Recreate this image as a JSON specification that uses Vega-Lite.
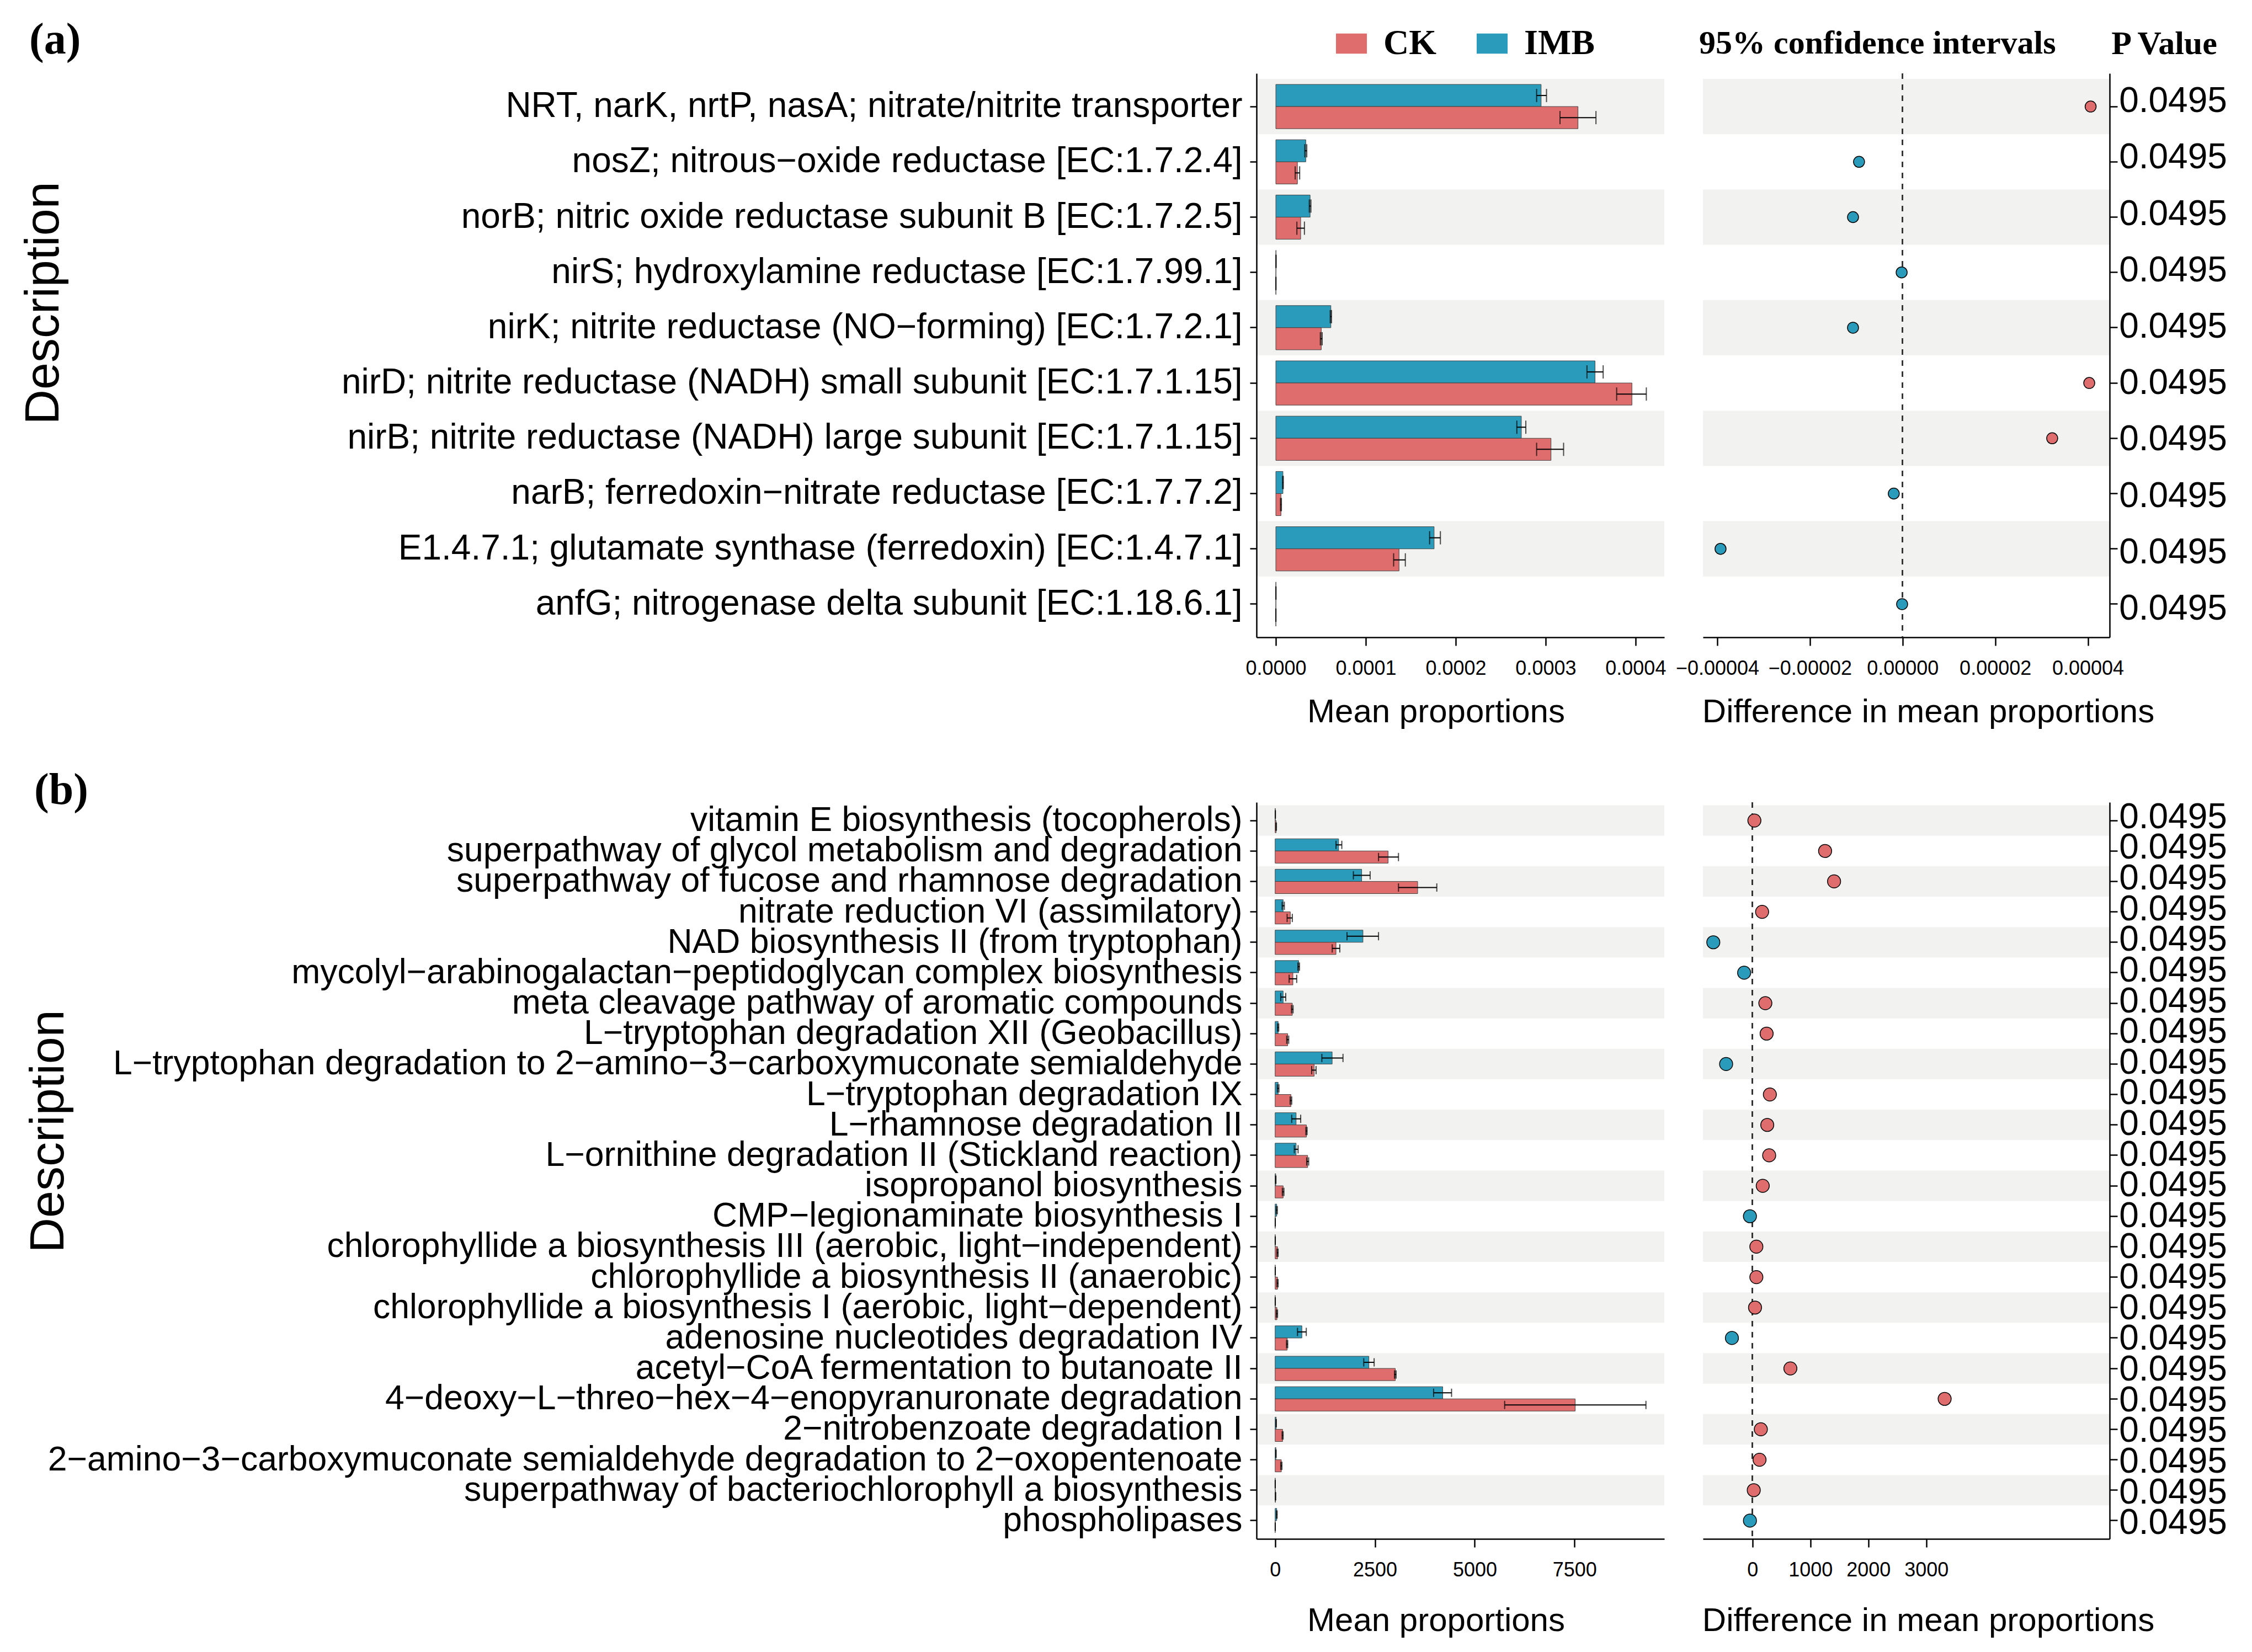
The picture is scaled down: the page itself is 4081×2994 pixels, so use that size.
{
"$schema": "https://vega.github.io/schema/vega-lite/v6.json",
"background": "white",
"padding": {"left": 35, "top": 33, "right": 20, "bottom": 10},
"datasets": {
"a": [
{"desc": "NRT, narK, nrtP, nasA; nitrate/nitrite transporter", "group": "IMB", "mean": 0.000295, "lo": 0.00029, "hi": 0.000301},
{"desc": "NRT, narK, nrtP, nasA; nitrate/nitrite transporter", "group": "CK", "mean": 0.000336, "lo": 0.000316, "hi": 0.000356, "diff": 0.0000406, "enriched": "CK", "p": 0.0495},
{"desc": "nosZ; nitrous−oxide reductase [EC:1.7.2.4]", "group": "IMB", "mean": 0.0000333, "lo": 0.0000322, "hi": 0.0000344},
{"desc": "nosZ; nitrous−oxide reductase [EC:1.7.2.4]", "group": "CK", "mean": 0.000024, "lo": 0.0000215, "hi": 0.0000265, "diff": -0.0000094, "enriched": "IMB", "p": 0.0495},
{"desc": "norB; nitric oxide reductase subunit B [EC:1.7.2.5]", "group": "IMB", "mean": 0.0000381, "lo": 0.0000372, "hi": 0.000039},
{"desc": "norB; nitric oxide reductase subunit B [EC:1.7.2.5]", "group": "CK", "mean": 0.0000276, "lo": 0.0000234, "hi": 0.0000318, "diff": -0.0000107, "enriched": "IMB", "p": 0.0495},
{"desc": "nirS; hydroxylamine reductase [EC:1.7.99.1]", "group": "IMB", "mean": 0.0000002, "lo": 0.0000001, "hi": 0.0000003},
{"desc": "nirS; hydroxylamine reductase [EC:1.7.99.1]", "group": "CK", "mean": 0.0000001, "lo": 0.00000005, "hi": 0.00000015, "diff": -0.0000002, "enriched": "IMB", "p": 0.0495},
{"desc": "nirK; nitrite reductase (NO−forming) [EC:1.7.2.1]", "group": "IMB", "mean": 0.0000612, "lo": 0.0000605, "hi": 0.0000619},
{"desc": "nirK; nitrite reductase (NO−forming) [EC:1.7.2.1]", "group": "CK", "mean": 0.0000505, "lo": 0.0000495, "hi": 0.0000515, "diff": -0.0000107, "enriched": "IMB", "p": 0.0495},
{"desc": "nirD; nitrite reductase (NADH) small subunit [EC:1.7.1.15]", "group": "IMB", "mean": 0.000355, "lo": 0.000346, "hi": 0.000364},
{"desc": "nirD; nitrite reductase (NADH) small subunit [EC:1.7.1.15]", "group": "CK", "mean": 0.000396, "lo": 0.000379, "hi": 0.000412, "diff": 0.0000403, "enriched": "CK", "p": 0.0495},
{"desc": "nirB; nitrite reductase (NADH) large subunit [EC:1.7.1.15]", "group": "IMB", "mean": 0.000273, "lo": 0.000268, "hi": 0.000278},
{"desc": "nirB; nitrite reductase (NADH) large subunit [EC:1.7.1.15]", "group": "CK", "mean": 0.000306, "lo": 0.00029, "hi": 0.00032, "diff": 0.0000323, "enriched": "CK", "p": 0.0495},
{"desc": "narB; ferredoxin−nitrate reductase [EC:1.7.7.2]", "group": "IMB", "mean": 0.0000079, "lo": 0.0000075, "hi": 0.0000083},
{"desc": "narB; ferredoxin−nitrate reductase [EC:1.7.7.2]", "group": "CK", "mean": 0.0000057, "lo": 0.0000052, "hi": 0.0000062, "diff": -0.0000019, "enriched": "IMB", "p": 0.0495},
{"desc": "E1.4.7.1; glutamate synthase (ferredoxin) [EC:1.4.7.1]", "group": "IMB", "mean": 0.000176, "lo": 0.000171, "hi": 0.000183},
{"desc": "E1.4.7.1; glutamate synthase (ferredoxin) [EC:1.4.7.1]", "group": "CK", "mean": 0.000137, "lo": 0.000131, "hi": 0.000144, "diff": -0.0000393, "enriched": "IMB", "p": 0.0495},
{"desc": "anfG; nitrogenase delta subunit [EC:1.18.6.1]", "group": "IMB", "mean": 0.0000001, "lo": 0.00000005, "hi": 0.00000015},
{"desc": "anfG; nitrogenase delta subunit [EC:1.18.6.1]", "group": "CK", "mean": 0.00000005, "lo": 0.00000003, "hi": 0.00000007, "diff": -0.0000001, "enriched": "IMB", "p": 0.0495}
],
"b": [
{"desc": "vitamin E biosynthesis (tocopherols)", "group": "IMB", "mean": 5, "lo": 3, "hi": 7},
{"desc": "vitamin E biosynthesis (tocopherols)", "group": "CK", "mean": 25, "lo": 18, "hi": 32, "diff": 33, "enriched": "CK", "p": 0.0495},
{"desc": "superpathway of glycol metabolism and degradation", "group": "IMB", "mean": 1590, "lo": 1525, "hi": 1670},
{"desc": "superpathway of glycol metabolism and degradation", "group": "CK", "mean": 2830, "lo": 2590, "hi": 3090, "diff": 1253, "enriched": "CK", "p": 0.0495},
{"desc": "superpathway of fucose and rhamnose degradation", "group": "IMB", "mean": 2168, "lo": 1960, "hi": 2380},
{"desc": "superpathway of fucose and rhamnose degradation", "group": "CK", "mean": 3570, "lo": 3090, "hi": 4050, "diff": 1408, "enriched": "CK", "p": 0.0495},
{"desc": "nitrate reduction VI (assimilatory)", "group": "IMB", "mean": 200, "lo": 175, "hi": 230},
{"desc": "nitrate reduction VI (assimilatory)", "group": "CK", "mean": 380, "lo": 300, "hi": 430, "diff": 166, "enriched": "CK", "p": 0.0495},
{"desc": "NAD biosynthesis II (from tryptophan)", "group": "IMB", "mean": 2200, "lo": 1800, "hi": 2590},
{"desc": "NAD biosynthesis II (from tryptophan)", "group": "CK", "mean": 1524, "lo": 1430, "hi": 1620, "diff": -676, "enriched": "IMB", "p": 0.0495},
{"desc": "mycolyl−arabinogalactan−peptidoglycan complex biosynthesis", "group": "IMB", "mean": 590, "lo": 570, "hi": 610},
{"desc": "mycolyl−arabinogalactan−peptidoglycan complex biosynthesis", "group": "CK", "mean": 445, "lo": 350, "hi": 540, "diff": -144, "enriched": "IMB", "p": 0.0495},
{"desc": "meta cleavage pathway of aromatic compounds", "group": "IMB", "mean": 200, "lo": 140, "hi": 265},
{"desc": "meta cleavage pathway of aromatic compounds", "group": "CK", "mean": 430, "lo": 410, "hi": 450, "diff": 222, "enriched": "CK", "p": 0.0495},
{"desc": "L−tryptophan degradation XII (Geobacillus)", "group": "IMB", "mean": 75, "lo": 60, "hi": 90},
{"desc": "L−tryptophan degradation XII (Geobacillus)", "group": "CK", "mean": 315, "lo": 290, "hi": 340, "diff": 244, "enriched": "CK", "p": 0.0495},
{"desc": "L−tryptophan degradation to 2−amino−3−carboxymuconate semialdehyde", "group": "IMB", "mean": 1428, "lo": 1170, "hi": 1700},
{"desc": "L−tryptophan degradation to 2−amino−3−carboxymuconate semialdehyde", "group": "CK", "mean": 977, "lo": 915, "hi": 1025, "diff": -455, "enriched": "IMB", "p": 0.0495},
{"desc": "L−tryptophan degradation IX", "group": "IMB", "mean": 75, "lo": 55, "hi": 95},
{"desc": "L−tryptophan degradation IX", "group": "CK", "mean": 395, "lo": 375, "hi": 415, "diff": 300, "enriched": "CK", "p": 0.0495},
{"desc": "L−rhamnose degradation II", "group": "IMB", "mean": 525, "lo": 415, "hi": 640},
{"desc": "L−rhamnose degradation II", "group": "CK", "mean": 783, "lo": 770, "hi": 800, "diff": 255, "enriched": "CK", "p": 0.0495},
{"desc": "L−ornithine degradation II (Stickland reaction)", "group": "IMB", "mean": 525, "lo": 480, "hi": 575},
{"desc": "L−ornithine degradation II (Stickland reaction)", "group": "CK", "mean": 815, "lo": 790, "hi": 840, "diff": 288, "enriched": "CK", "p": 0.0495},
{"desc": "isopropanol biosynthesis", "group": "IMB", "mean": 15, "lo": 10, "hi": 20},
{"desc": "isopropanol biosynthesis", "group": "CK", "mean": 200, "lo": 180, "hi": 220, "diff": 177, "enriched": "CK", "p": 0.0495},
{"desc": "CMP−legionaminate biosynthesis I", "group": "IMB", "mean": 40, "lo": 25, "hi": 55},
{"desc": "CMP−legionaminate biosynthesis I", "group": "CK", "mean": 3, "lo": 2, "hi": 4, "diff": -44, "enriched": "IMB", "p": 0.0495},
{"desc": "chlorophyllide a biosynthesis III (aerobic, light−independent)", "group": "IMB", "mean": 3, "lo": 2, "hi": 4},
{"desc": "chlorophyllide a biosynthesis III (aerobic, light−independent)", "group": "CK", "mean": 60, "lo": 45, "hi": 75, "diff": 67, "enriched": "CK", "p": 0.0495},
{"desc": "chlorophyllide a biosynthesis II (anaerobic)", "group": "IMB", "mean": 3, "lo": 2, "hi": 4},
{"desc": "chlorophyllide a biosynthesis II (anaerobic)", "group": "CK", "mean": 60, "lo": 45, "hi": 75, "diff": 67, "enriched": "CK", "p": 0.0495},
{"desc": "chlorophyllide a biosynthesis I (aerobic, light−dependent)", "group": "IMB", "mean": 3, "lo": 2, "hi": 4},
{"desc": "chlorophyllide a biosynthesis I (aerobic, light−dependent)", "group": "CK", "mean": 45, "lo": 30, "hi": 60, "diff": 44, "enriched": "CK", "p": 0.0495},
{"desc": "adenosine nucleotides degradation IV", "group": "IMB", "mean": 670, "lo": 560, "hi": 780},
{"desc": "adenosine nucleotides degradation IV", "group": "CK", "mean": 300, "lo": 285, "hi": 315, "diff": -355, "enriched": "IMB", "p": 0.0495},
{"desc": "acetyl−CoA fermentation to butanoate II", "group": "IMB", "mean": 2348, "lo": 2220, "hi": 2480},
{"desc": "acetyl−CoA fermentation to butanoate II", "group": "CK", "mean": 3010, "lo": 2990, "hi": 3030, "diff": 654, "enriched": "CK", "p": 0.0495},
{"desc": "4−deoxy−L−threo−hex−4−enopyranuronate degradation", "group": "IMB", "mean": 4198, "lo": 3970, "hi": 4420},
{"desc": "4−deoxy−L−threo−hex−4−enopyranuronate degradation", "group": "CK", "mean": 7517, "lo": 5750, "hi": 9290, "diff": 3316, "enriched": "CK", "p": 0.0495},
{"desc": "2−nitrobenzoate degradation I", "group": "IMB", "mean": 25, "lo": 20, "hi": 30},
{"desc": "2−nitrobenzoate degradation I", "group": "CK", "mean": 187, "lo": 175, "hi": 200, "diff": 144, "enriched": "CK", "p": 0.0495},
{"desc": "2−amino−3−carboxymuconate semialdehyde degradation to 2−oxopentenoate", "group": "IMB", "mean": 20, "lo": 15, "hi": 25},
{"desc": "2−amino−3−carboxymuconate semialdehyde degradation to 2−oxopentenoate", "group": "CK", "mean": 155, "lo": 140, "hi": 170, "diff": 122, "enriched": "CK", "p": 0.0495},
{"desc": "superpathway of bacteriochlorophyll a biosynthesis", "group": "IMB", "mean": 2, "lo": 1, "hi": 3},
{"desc": "superpathway of bacteriochlorophyll a biosynthesis", "group": "CK", "mean": 10, "lo": 6, "hi": 14, "diff": 22, "enriched": "CK", "p": 0.0495},
{"desc": "phospholipases", "group": "IMB", "mean": 40, "lo": 30, "hi": 50},
{"desc": "phospholipases", "group": "CK", "mean": 2, "lo": 1, "hi": 3, "diff": -44, "enriched": "IMB", "p": 0.0495}
]
},
"columns": 3,
"spacing": {"row": 299, "column": 70},
"bounds": "flush",
"resolve": {"scale": {"yOffset": "independent"}},
"concat": [
{
"width": 739, "height": 1022,
"data": {"name": "a"},
"title": {"text": "(a)", "anchor": "start", "frame": "bounds", "font": "Liberation Serif", "fontWeight": "bold", "fontSize": 80, "baseline": "alphabetic", "offset": -44, "dx": 18, "color": "black"},
"layer": [
{"transform": [{"filter": "isValid(datum.diff)"}, {"window": [{"op": "row_number", "as": "rn"}]}],
 "mark": {"type": "rect"},
 "encoding": {
  "y": {"field": "desc", "type": "nominal", "sort": null, "scale": {"paddingInner": 0, "paddingOuter": 0.1}, "axis": {"title": "Description", "titleFontSize": 88, "titleX": -2172, "titleY": 416, "titleBaseline": "alphabetic", "titleAngle": -90, "titleAlign": "center", "labelFontSize": 64, "labelLimit": 0, "labelPadding": 14, "tickSize": 12}},
  "fill": {"condition": {"test": "datum.rn % 2 == 1", "value": "#F2F2F0"}, "value": "transparent"}}},
{"mark": {"type": "bar", "stroke": "#444", "strokeWidth": 1},
 "encoding": {
  "y": {"field": "desc", "type": "nominal", "sort": null, "scale": {"paddingInner": 0, "paddingOuter": 0.1}, "axis": {"title": "Description", "titleFontSize": 88, "titleX": -2172, "titleY": 416, "titleBaseline": "alphabetic", "titleAngle": -90, "titleAlign": "center", "labelFontSize": 64, "labelLimit": 0, "labelPadding": 14, "tickSize": 12}},
  "yOffset": {"field": "group", "type": "nominal", "sort": ["IMB", "CK"], "scale": {"paddingInner": 0, "paddingOuter": 0.25}},
  "x": {"field": "mean", "type": "quantitative", "scale": {"domain": [-0.0000215, 0.000432], "nice": false, "zero": false}, "axis": {"title": "Mean proportions", "titleX": 325, "titleY": 153, "titleBaseline": "alphabetic", "titleFontSize": 60, "values": [0, 0.0001, 0.0002, 0.0003, 0.0004], "format": ".4f", "labelFontSize": 36, "tickSize": 15, "labelPadding": 24}},
  "color": {"field": "group", "type": "nominal", "scale": {"domain": ["CK", "IMB"], "range": ["#E06D6D", "#2B9BBB"]},
   "legend": {"orient": "none", "legendX": 140, "legendY": -86, "direction": "horizontal", "title": null, "symbolType": "M-1,-0.65L1,-0.65L1,0.65L-1,0.65Z", "symbolSize": 3136, "symbolStrokeWidth": 0, "symbolOpacity": 1, "labelFont": "Liberation Serif", "labelFontWeight": "bold", "labelFontSize": 64, "labelOffset": 26, "columnPadding": 69, "labelColor": "black", "padding": 0, "labelLimit": 0}}}},
{"mark": {"type": "rule", "color": "black", "strokeWidth": 2},
 "encoding": {
  "y": {"field": "desc", "type": "nominal", "sort": null, "scale": {"paddingInner": 0, "paddingOuter": 0.1}, "axis": {"title": "Description", "titleFontSize": 88, "titleX": -2172, "titleY": 416, "titleBaseline": "alphabetic", "titleAngle": -90, "titleAlign": "center", "labelFontSize": 64, "labelLimit": 0, "labelPadding": 14, "tickSize": 12}},
  "yOffset": {"field": "group", "type": "nominal", "sort": ["IMB", "CK"], "scale": {"paddingInner": 0, "paddingOuter": 0.25}},
  "x": {"field": "lo", "type": "quantitative", "scale": {"domain": [-0.0000215, 0.000432], "nice": false, "zero": false}, "axis": {"title": "Mean proportions", "titleX": 325, "titleY": 153, "titleBaseline": "alphabetic", "titleFontSize": 60, "values": [0, 0.0001, 0.0002, 0.0003, 0.0004], "format": ".4f", "labelFontSize": 36, "tickSize": 15, "labelPadding": 24}},
  "x2": {"field": "hi"}}},
{"mark": {"type": "tick", "color": "black", "size": 24, "thickness": 2},
 "encoding": {
  "y": {"field": "desc", "type": "nominal", "sort": null, "scale": {"paddingInner": 0, "paddingOuter": 0.1}, "axis": {"title": "Description", "titleFontSize": 88, "titleX": -2172, "titleY": 416, "titleBaseline": "alphabetic", "titleAngle": -90, "titleAlign": "center", "labelFontSize": 64, "labelLimit": 0, "labelPadding": 14, "tickSize": 12}},
  "yOffset": {"field": "group", "type": "nominal", "sort": ["IMB", "CK"], "scale": {"paddingInner": 0, "paddingOuter": 0.25}},
  "x": {"field": "lo", "type": "quantitative", "scale": {"domain": [-0.0000215, 0.000432], "nice": false, "zero": false}, "axis": {"title": "Mean proportions", "titleX": 325, "titleY": 153, "titleBaseline": "alphabetic", "titleFontSize": 60, "values": [0, 0.0001, 0.0002, 0.0003, 0.0004], "format": ".4f", "labelFontSize": 36, "tickSize": 15, "labelPadding": 24}}}},
{"mark": {"type": "tick", "color": "black", "size": 24, "thickness": 2},
 "encoding": {
  "y": {"field": "desc", "type": "nominal", "sort": null, "scale": {"paddingInner": 0, "paddingOuter": 0.1}, "axis": {"title": "Description", "titleFontSize": 88, "titleX": -2172, "titleY": 416, "titleBaseline": "alphabetic", "titleAngle": -90, "titleAlign": "center", "labelFontSize": 64, "labelLimit": 0, "labelPadding": 14, "tickSize": 12}},
  "yOffset": {"field": "group", "type": "nominal", "sort": ["IMB", "CK"], "scale": {"paddingInner": 0, "paddingOuter": 0.25}},
  "x": {"field": "hi", "type": "quantitative", "scale": {"domain": [-0.0000215, 0.000432], "nice": false, "zero": false}, "axis": {"title": "Mean proportions", "titleX": 325, "titleY": 153, "titleBaseline": "alphabetic", "titleFontSize": 60, "values": [0, 0.0001, 0.0002, 0.0003, 0.0004], "format": ".4f", "labelFontSize": 36, "tickSize": 15, "labelPadding": 24}}}}
]
},
{
"width": 737, "height": 1022,
"data": {"name": "a"},
"title": {"text": "95% confidence intervals", "anchor": "start", "frame": "group", "font": "Liberation Serif", "fontWeight": "bold", "fontSize": 60, "baseline": "alphabetic", "offset": -25, "dx": -7, "color": "black"},
"transform": [{"filter": "isValid(datum.diff)"}, {"window": [{"op": "row_number", "as": "rn"}]}],
"layer": [
{"mark": {"type": "rect"},
 "encoding": {
  "y": {"field": "desc", "type": "nominal", "sort": null, "scale": {"paddingInner": 0, "paddingOuter": 0.1}, "axis": {"orient": "right", "title": null, "labels": false, "ticks": true, "tickSize": 14, "domain": true}},
  "fill": {"condition": {"test": "datum.rn % 2 == 1", "value": "#F2F2F0"}, "value": "transparent"}}},
{"mark": {"type": "rule", "color": "#333333", "strokeWidth": 2, "strokeDash": [10, 10]},
 "encoding": {
  "x": {"datum": 0, "type": "quantitative", "scale": {"domain": [-0.0000431, 0.0000447], "nice": false, "zero": false}, "axis": {"title": "Difference in mean proportions", "titleX": 408, "titleY": 153, "titleBaseline": "alphabetic", "titleFontSize": 60, "values": [-0.00004, -0.00002, 0, 0.00002, 0.00004], "format": ".5f", "labelFontSize": 36, "tickSize": 15, "labelPadding": 24}}}},
{"mark": {"type": "circle", "size": 400, "opacity": 1, "stroke": "black", "strokeWidth": 1.5},
 "encoding": {
  "y": {"field": "desc", "type": "nominal", "sort": null, "scale": {"paddingInner": 0, "paddingOuter": 0.1}, "axis": {"orient": "right", "title": null, "labels": false, "ticks": true, "tickSize": 14, "domain": true}},
  "x": {"field": "diff", "type": "quantitative", "scale": {"domain": [-0.0000431, 0.0000447], "nice": false, "zero": false}, "axis": {"title": "Difference in mean proportions", "titleX": 408, "titleY": 153, "titleBaseline": "alphabetic", "titleFontSize": 60, "values": [-0.00004, -0.00002, 0, 0.00002, 0.00004], "format": ".5f", "labelFontSize": 36, "tickSize": 15, "labelPadding": 24}},
  "color": {"field": "enriched", "type": "nominal", "scale": {"domain": ["CK", "IMB"], "range": ["#E06D6D", "#2B9BBB"]}, "legend": null}}}
]
},
{
"width": 90, "height": 1022,
"data": {"name": "a"},
"title": {"text": "P Value", "anchor": "middle", "frame": "group", "font": "Liberation Serif", "fontWeight": "bold", "fontSize": 60, "baseline": "alphabetic", "offset": -25, "dx": -16, "color": "black"},
"transform": [{"filter": "isValid(datum.diff)"}],
"mark": {"type": "text", "font": "Liberation Sans", "fontSize": 64, "baseline": "middle", "align": "center", "color": "black"},
"encoding": {
 "y": {"field": "desc", "type": "nominal", "sort": null, "scale": {"paddingInner": 0, "paddingOuter": 0.1}, "axis": null},
 "text": {"field": "p", "type": "quantitative", "format": ".4f"}}
},
{
"width": 739, "height": 1335,
"data": {"name": "b"},
"title": {"text": "(b)", "anchor": "start", "frame": "bounds", "font": "Liberation Serif", "fontWeight": "bold", "fontSize": 80, "baseline": "alphabetic", "offset": -83, "dx": 18, "color": "black"},
"layer": [
{"transform": [{"filter": "isValid(datum.diff)"}, {"window": [{"op": "row_number", "as": "rn"}]}],
 "mark": {"type": "rect"},
 "encoding": {
  "y": {"field": "desc", "type": "nominal", "sort": null, "scale": {"paddingInner": 0, "paddingOuter": 0.1}, "axis": {"title": "Description", "titleFontSize": 88, "titleX": -2163, "titleY": 596, "titleBaseline": "alphabetic", "titleAngle": -90, "titleAlign": "center", "labelFontSize": 62.5, "labelLimit": 0, "labelPadding": 14, "tickSize": 12}},
  "fill": {"condition": {"test": "datum.rn % 2 == 1", "value": "#F2F2F0"}, "value": "transparent"}}},
{"mark": {"type": "bar", "stroke": "#444", "strokeWidth": 1},
 "encoding": {
  "y": {"field": "desc", "type": "nominal", "sort": null, "scale": {"paddingInner": 0, "paddingOuter": 0.1}, "axis": {"title": "Description", "titleFontSize": 88, "titleX": -2163, "titleY": 596, "titleBaseline": "alphabetic", "titleAngle": -90, "titleAlign": "center", "labelFontSize": 62.5, "labelLimit": 0, "labelPadding": 14, "tickSize": 12}},
  "yOffset": {"field": "group", "type": "nominal", "sort": ["IMB", "CK"], "scale": {"paddingInner": 0, "paddingOuter": 0.25}},
  "x": {"field": "mean", "type": "quantitative", "scale": {"domain": [-467, 9750], "nice": false, "zero": false}, "axis": {"title": "Mean proportions", "titleX": 325, "titleY": 166, "titleBaseline": "alphabetic", "titleFontSize": 60, "values": [0, 2500, 5000, 7500], "format": "d", "labelFontSize": 36, "tickSize": 15, "labelPadding": 24}},
  "color": {"field": "group", "type": "nominal", "scale": {"domain": ["CK", "IMB"], "range": ["#E06D6D", "#2B9BBB"]}, "legend": null}}},
{"mark": {"type": "rule", "color": "black", "strokeWidth": 2},
 "encoding": {
  "y": {"field": "desc", "type": "nominal", "sort": null, "scale": {"paddingInner": 0, "paddingOuter": 0.1}, "axis": {"title": "Description", "titleFontSize": 88, "titleX": -2163, "titleY": 596, "titleBaseline": "alphabetic", "titleAngle": -90, "titleAlign": "center", "labelFontSize": 62.5, "labelLimit": 0, "labelPadding": 14, "tickSize": 12}},
  "yOffset": {"field": "group", "type": "nominal", "sort": ["IMB", "CK"], "scale": {"paddingInner": 0, "paddingOuter": 0.25}},
  "x": {"field": "lo", "type": "quantitative", "scale": {"domain": [-467, 9750], "nice": false, "zero": false}, "axis": {"title": "Mean proportions", "titleX": 325, "titleY": 166, "titleBaseline": "alphabetic", "titleFontSize": 60, "values": [0, 2500, 5000, 7500], "format": "d", "labelFontSize": 36, "tickSize": 15, "labelPadding": 24}},
  "x2": {"field": "hi"}}},
{"mark": {"type": "tick", "color": "black", "size": 15, "thickness": 2},
 "encoding": {
  "y": {"field": "desc", "type": "nominal", "sort": null, "scale": {"paddingInner": 0, "paddingOuter": 0.1}, "axis": {"title": "Description", "titleFontSize": 88, "titleX": -2163, "titleY": 596, "titleBaseline": "alphabetic", "titleAngle": -90, "titleAlign": "center", "labelFontSize": 62.5, "labelLimit": 0, "labelPadding": 14, "tickSize": 12}},
  "yOffset": {"field": "group", "type": "nominal", "sort": ["IMB", "CK"], "scale": {"paddingInner": 0, "paddingOuter": 0.25}},
  "x": {"field": "lo", "type": "quantitative", "scale": {"domain": [-467, 9750], "nice": false, "zero": false}, "axis": {"title": "Mean proportions", "titleX": 325, "titleY": 166, "titleBaseline": "alphabetic", "titleFontSize": 60, "values": [0, 2500, 5000, 7500], "format": "d", "labelFontSize": 36, "tickSize": 15, "labelPadding": 24}}}},
{"mark": {"type": "tick", "color": "black", "size": 15, "thickness": 2},
 "encoding": {
  "y": {"field": "desc", "type": "nominal", "sort": null, "scale": {"paddingInner": 0, "paddingOuter": 0.1}, "axis": {"title": "Description", "titleFontSize": 88, "titleX": -2163, "titleY": 596, "titleBaseline": "alphabetic", "titleAngle": -90, "titleAlign": "center", "labelFontSize": 62.5, "labelLimit": 0, "labelPadding": 14, "tickSize": 12}},
  "yOffset": {"field": "group", "type": "nominal", "sort": ["IMB", "CK"], "scale": {"paddingInner": 0, "paddingOuter": 0.25}},
  "x": {"field": "hi", "type": "quantitative", "scale": {"domain": [-467, 9750], "nice": false, "zero": false}, "axis": {"title": "Mean proportions", "titleX": 325, "titleY": 166, "titleBaseline": "alphabetic", "titleFontSize": 60, "values": [0, 2500, 5000, 7500], "format": "d", "labelFontSize": 36, "tickSize": 15, "labelPadding": 24}}}}
]
},
{
"width": 737, "height": 1335,
"data": {"name": "b"},
"transform": [{"filter": "isValid(datum.diff)"}, {"window": [{"op": "row_number", "as": "rn"}]}],
"layer": [
{"mark": {"type": "rect"},
 "encoding": {
  "y": {"field": "desc", "type": "nominal", "sort": null, "scale": {"paddingInner": 0, "paddingOuter": 0.1}, "axis": {"orient": "right", "title": null, "labels": false, "ticks": true, "tickSize": 14, "domain": true}},
  "fill": {"condition": {"test": "datum.rn % 2 == 1", "value": "#F2F2F0"}, "value": "transparent"}}},
{"mark": {"type": "rule", "color": "#333333", "strokeWidth": 2, "strokeDash": [10, 10]},
 "encoding": {
  "x": {"datum": 0, "type": "quantitative", "scale": {"domain": [-855, 6163], "nice": false, "zero": false}, "axis": {"title": "Difference in mean proportions", "titleX": 408, "titleY": 166, "titleBaseline": "alphabetic", "titleFontSize": 60, "values": [0, 1000, 2000, 3000], "format": "d", "labelFontSize": 36, "tickSize": 15, "labelPadding": 24}}}},
{"mark": {"type": "circle", "size": 560, "opacity": 1, "stroke": "black", "strokeWidth": 1.5},
 "encoding": {
  "y": {"field": "desc", "type": "nominal", "sort": null, "scale": {"paddingInner": 0, "paddingOuter": 0.1}, "axis": {"orient": "right", "title": null, "labels": false, "ticks": true, "tickSize": 14, "domain": true}},
  "x": {"field": "diff", "type": "quantitative", "scale": {"domain": [-855, 6163], "nice": false, "zero": false}, "axis": {"title": "Difference in mean proportions", "titleX": 408, "titleY": 166, "titleBaseline": "alphabetic", "titleFontSize": 60, "values": [0, 1000, 2000, 3000], "format": "d", "labelFontSize": 36, "tickSize": 15, "labelPadding": 24}},
  "color": {"field": "enriched", "type": "nominal", "scale": {"domain": ["CK", "IMB"], "range": ["#E06D6D", "#2B9BBB"]}, "legend": null}}}
]
},
{
"width": 90, "height": 1335,
"data": {"name": "b"},
"transform": [{"filter": "isValid(datum.diff)"}],
"mark": {"type": "text", "font": "Liberation Sans", "fontSize": 64, "baseline": "middle", "align": "center", "color": "black"},
"encoding": {
 "y": {"field": "desc", "type": "nominal", "sort": null, "scale": {"paddingInner": 0, "paddingOuter": 0.1}, "axis": null},
 "text": {"field": "p", "type": "quantitative", "format": ".4f"}}
}
],
"config": {
 "view": {"stroke": null},
 "axis": {"domainColor": "black", "tickColor": "black", "labelColor": "black", "titleColor": "black", "domainWidth": 2.5, "tickWidth": 2.5, "labelFont": "Liberation Sans", "titleFont": "Liberation Sans", "titleFontWeight": "normal", "grid": false, "labelFlush": false, "labelOverlap": false}
}
}
